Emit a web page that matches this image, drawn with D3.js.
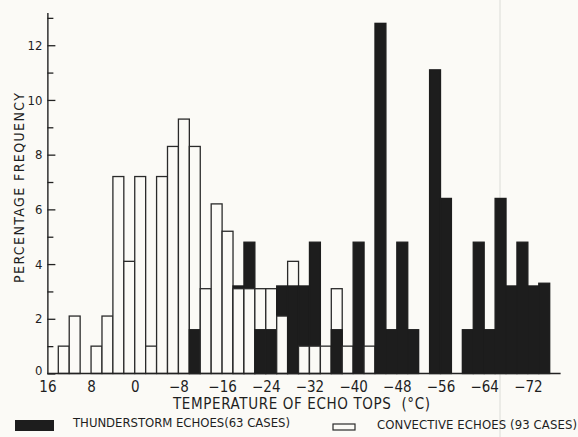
<!DOCTYPE html>
<html>
<head>
<meta charset="utf-8">
<script src="https://cdn.jsdelivr.net/npm/d3@7"></script>
<style>
  html, body { margin: 0; padding: 0; background: #fbfaf6; }
  svg { display: block; }
  .lbl { font-family: "Liberation Sans Narrow", "DejaVu Sans Condensed", "Liberation Sans", sans-serif; fill: #1e1e1e; }
  .axis .domain { stroke: #222; stroke-width: 1.4; }
  .axis line { stroke: #222; stroke-width: 1.3; }
</style>
</head>
<body>
<svg id="chart" width="578" height="437"></svg>
<script>
// warm edge (deg C) of each 2-degree bin
var binTemps = [14, 12, 10, 8, 6, 4, 2, 0, -2, -4, -6, -8, -10, -12, -14, -16, -18, -20, -22, -24, -26, -28, -30,
                -32, -34, -36, -38, -40, -42, -44, -46, -48, -50, -52, -54, -56, -58, -60, -62, -64, -66, -68, -70, -72, -74];

// percentage frequency per bin
var convective = [1.0, 2.1, 0, 1.0, 2.1, 7.2, 4.1, 7.2, 1.0, 7.2, 8.3, 9.3, 8.3, 3.1, 6.2, 5.2, 3.1, 3.1, 3.1, 3.1, 2.1, 4.1, 1.0,
                  1.0, 1.0, 3.1, 1.0, 0, 1.0, 0, 0, 0, 0, 0, 0, 0, 0, 0, 0, 0, 0, 0, 0, 0, 0];
var thunderstorm = [0, 0, 0, 0, 0, 0, 0, 0, 0, 0, 0, 0, 1.6, 0, 0, 0, 3.2, 4.8, 1.6, 1.6, 3.2, 3.2, 3.2,
                    4.8, 0, 1.6, 0, 4.8, 0, 12.8, 1.6, 4.8, 1.6, 0, 11.1, 6.4, 0, 1.6, 4.8, 1.6, 6.4, 3.2, 4.8, 3.2, 3.3];

var xTicks = [16, 8, 0, -8, -16, -24, -32, -40, -48, -56, -64, -72];
var yMajor = [0, 2, 4, 6, 8, 10, 12];
var yMinor = [1, 3, 5, 7, 9, 11, 13];

var svg = d3.select('#chart');

var x = d3.scaleLinear().domain([14, -76]).range([58.3, 549.7]);
var y = d3.scaleLinear().domain([0, 13.2]).range([373.5, 12.4]);
var binW = x(binTemps[1]) - x(binTemps[0]);

// scan artefact: faint vertical crease
svg.append('line')
    .attr('x1', 500).attr('x2', 500).attr('y1', 0).attr('y2', 437)
    .style('stroke', '#d4d4d0').style('stroke-width', 0.8);

// taller bar goes down first, the shorter one sits on top of it
var marks = [];
binTemps.forEach(function(t, i) {
    var pair = [];
    if (thunderstorm[i] > 0) pair.push({ t: t, v: thunderstorm[i], kind: 'thunder' });
    if (convective[i] > 0) pair.push({ t: t, v: convective[i], kind: 'conv' });
    pair.sort(function(a, b) { return b.v - a.v; });
    marks = marks.concat(pair);
});

svg.append('g').selectAll('rect')
    .data(marks)
    .join('rect')
    .attr('x', function(d) { return x(d.t); })
    .attr('width', binW)
    .attr('y', function(d) { return y(d.v); })
    .attr('height', function(d) { return y(0) - y(d.v); })
    .style('fill', function(d) { return d.kind == 'thunder' ? '#1d1d1d' : '#fbfaf6'; })
    .style('stroke', function(d) { return d.kind == 'thunder' ? '#1d1d1d' : '#2a2a2a'; })
    .style('stroke-width', 1.3);

// baseline
svg.append('line')
    .attr('x1', x(16)).attr('x2', x(-78))
    .attr('y1', y(0)).attr('y2', y(0))
    .style('stroke', '#222').style('stroke-width', 1.5);

var xAxis = d3.axisBottom(x)
    .tickValues(xTicks)
    .tickSize(0)
    .tickPadding(8)
    .tickFormat(function(d) { return d < 0 ? '\u2212' + (-d) : d; });

var gx = svg.append('g')
    .attr('class', 'axis')
    .attr('transform', 'translate(0,' + y(0) + ')')
    .call(xAxis);
gx.select('.domain').remove();
gx.selectAll('text').attr('class', 'lbl').style('font-size', '15px').attr('fill', null);

var gyMinor = svg.append('g')
    .attr('class', 'axis')
    .attr('transform', 'translate(' + x(16) + ',0)')
    .call(d3.axisLeft(y).tickValues(yMinor).tickSize(-6).tickSizeOuter(0).tickFormat(''));
gyMinor.select('.domain').remove();

var gy = svg.append('g')
    .attr('class', 'axis')
    .attr('transform', 'translate(' + x(16) + ',0)')
    .call(d3.axisLeft(y).tickValues(yMajor).tickSize(-8).tickSizeOuter(0).tickPadding(5).tickFormat(d3.format('d')));
gy.selectAll('text').attr('class', 'lbl').style('font-size', '13px').attr('fill', null);
// the zero label sits a touch higher so it clears the 16 below it
gy.selectAll('text').filter(function(d) { return d === 0; }).attr('dy', '0.1em');

// axis titles
svg.append('text')
    .attr('class', 'lbl')
    .attr('x', 173).attr('y', 409)
    .attr('textLength', 257)
    .style('font-size', '15px')
    .style('white-space', 'pre')
    .text('TEMPERATURE OF ECHO TOPS  (\u00b0C)');

svg.append('text')
    .attr('class', 'lbl')
    .attr('transform', 'translate(24,188) rotate(-90)')
    .attr('text-anchor', 'middle')
    .attr('textLength', 190)
    .style('font-size', '14px')
    .text('PERCENTAGE FREQUENCY');

// legend
svg.append('rect')
    .attr('x', 15).attr('y', 420).attr('width', 39).attr('height', 11)
    .style('fill', '#1d1d1d');
svg.append('text')
    .attr('class', 'lbl')
    .attr('x', 73).attr('y', 427)
    .attr('textLength', 217)
    .style('font-size', '13px')
    .text('THUNDERSTORM ECHOES(63 CASES)');

svg.append('rect')
    .attr('x', 333).attr('y', 424).attr('width', 22).attr('height', 6)
    .style('fill', 'none').style('stroke', '#2a2a2a').style('stroke-width', 1.2);
svg.append('text')
    .attr('class', 'lbl')
    .attr('x', 377).attr('y', 429)
    .attr('textLength', 200)
    .style('font-size', '13px')
    .text('CONVECTIVE ECHOES (93 CASES)');
</script>
</body>
</html>
